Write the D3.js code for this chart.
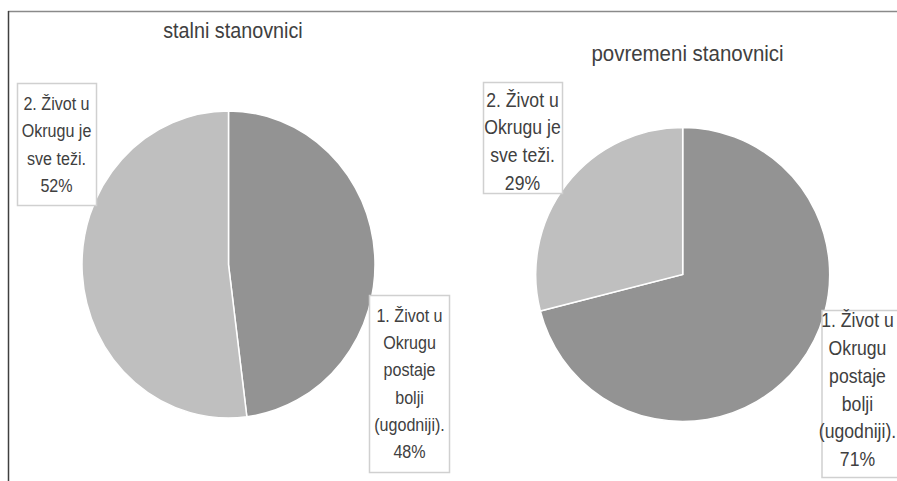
<!DOCTYPE html>
<html>
<head>
<meta charset="utf-8">
<script src="https://cdn.jsdelivr.net/npm/d3@7/dist/d3.min.js"></script>
<style>
  html, body { margin: 0; padding: 0; background: #fff; }
  svg { display: block; font-family: Arial, "Liberation Sans", sans-serif; }
</style>
</head>
<body>
<svg id="chart"></svg>
<script>
// answer categories (same order in both pies)
const categories = ['1', '2'];
const labelLines = {
  '1': ['1. Život u', 'Okrugu', 'postaje', 'bolji', '(ugodniji).'],
  '2': ['2. Život u', 'Okrugu je', 'sve teži.']
};
// shares in %
const stalniValues = [48, 52];
const povremeniValues = [71, 29];
const chartTitles = ['stalni stanovnici', 'povremeni stanovnici'];

const Width = 897, Height = 481;
const Colors = d3.scaleOrdinal().domain(categories).range(['#939393', '#bfbfbf']);
const Pct = d3.format('.0%');

const SVG = d3.select('#chart').attr('width', Width).attr('height', Height);

// frame lines of the original picture
SVG.append('line').attr('x1', 8).attr('x2', Width).attr('y1', 11.5).attr('y2', 11.5)
  .attr('stroke', '#8a8a8a').attr('stroke-width', 1.5);
SVG.append('line').attr('x1', 8.5).attr('x2', 8.5).attr('y1', 11).attr('y2', Height)
  .attr('stroke', '#404040').attr('stroke-width', 1.5);

// layout per pie (left one is slightly stretched vertically)
const Layout = [
  { values: stalniValues, title: chartTitles[0], cx: 228.5, cy: 264.5, rx: 146.5, ry: 153.5,
    titleX: 233, titleY: 37.5, titleSize: 21.5, titleScale: 0.92,
    fontSize: 18.5, fontScale: 0.87, lineH: 27.3,
    boxes: {
      '1': { x: 369, y: 295, w: 80, h: 177, cx: 409.5, base: 321.7 },
      '2': { x: 17, y: 83, w: 79, h: 122, cx: 56.5, base: 110 }
    } },
  { values: povremeniValues, title: chartTitles[1], cx: 682.7, cy: 274.5, rx: 147, ry: 147,
    titleX: 687.5, titleY: 61, titleSize: 22.5, titleScale: 0.91,
    fontSize: 20.5, fontScale: 0.86, lineH: 27.8,
    boxes: {
      '1': { x: 821.5, y: 310, w: 90, h: 167, cx: 857.5, base: 327.3 },
      '2': { x: 483, y: 82, w: 79, h: 111, cx: 522.5, base: 106.7 }
    } }
];

const PieGen = d3.pie().sort(null).value(d => d.value);

Layout.forEach(L => {
  const Data = categories.map((c, i) => ({ key: c, value: L.values[i] }));
  const Total = d3.sum(Data, d => d.value);
  const Arcs = PieGen(Data);
  const ArcGen = d3.arc().innerRadius(0).outerRadius(L.ry);

  const g = SVG.append('g')
    .attr('transform', `translate(${L.cx},${L.cy}) scale(${L.rx / L.ry},1)`);
  g.selectAll('path')
    .data(Arcs)
    .join('path')
    .attr('d', ArcGen)
    .attr('fill', d => Colors(d.data.key))
    .attr('stroke', '#fff')
    .attr('stroke-width', 1.5)
    .attr('vector-effect', 'non-scaling-stroke');

  // title
  SVG.append('text')
    .attr('transform', `translate(${L.titleX},${L.titleY}) scale(${L.titleScale},1)`)
    .attr('text-anchor', 'middle')
    .attr('font-size', L.titleSize)
    .attr('fill', '#404040')
    .text(L.title);

  // data labels in boxes
  Arcs.forEach(a => {
    const B = L.boxes[a.data.key];
    SVG.append('rect')
      .attr('x', B.x + 0.5).attr('y', B.y + 0.5)
      .attr('width', B.w).attr('height', B.h)
      .attr('fill', '#fff')
      .attr('stroke', '#d0d0d0')
      .attr('stroke-width', 1.5);
    const Lines = labelLines[a.data.key].concat([Pct(a.data.value / Total)]);
    const t = SVG.append('text')
      .attr('transform', `translate(${B.cx},${B.base}) scale(${L.fontScale},1)`)
      .attr('text-anchor', 'middle')
      .attr('font-size', L.fontSize)
      .attr('fill', '#404040');
    t.selectAll('tspan')
      .data(Lines)
      .join('tspan')
      .attr('x', 0)
      .attr('y', (_, i) => i * L.lineH)
      .text(d => d);
  });
});
</script>
</body>
</html>
